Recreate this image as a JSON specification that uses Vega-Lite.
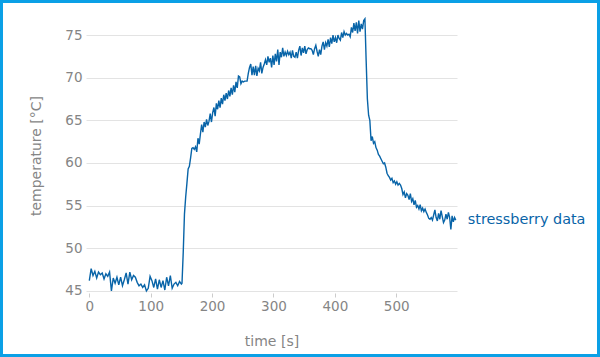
{
  "$schema": "https://vega.github.io/schema/vega-lite/v6.json",
  "autosize": {"type": "none"},
  "padding": 0,
  "width": 600,
  "height": 357,
  "background": "white",
  "config": {
    "font": "DejaVu Sans",
    "view": {"stroke": "#0ba0e6", "strokeWidth": 6}
  },
  "layer": [
    {
      "data": {"values": [
        {"t":0,"v":46.2},{"t":3,"v":47.6},{"t":6,"v":46.8},{"t":9,"v":47.3},{"t":12,"v":46.5},{"t":15,"v":47.2},{"t":18,"v":46.9},{"t":21,"v":47.1},{"t":24,"v":46.4},{"t":27,"v":47.0},{"t":30,"v":46.7},{"t":33,"v":47.2},{"t":36,"v":45.0},{"t":39,"v":46.5},{"t":42,"v":45.9},{"t":45,"v":46.6},{"t":48,"v":45.7},{"t":51,"v":46.6},{"t":54,"v":45.6},{"t":57,"v":46.3},{"t":60,"v":47.1},{"t":63,"v":45.8},{"t":66,"v":47.2},{"t":69,"v":46.3},{"t":72,"v":46.8},{"t":75,"v":46.6},{"t":78,"v":46.0},{"t":81,"v":45.6},{"t":84,"v":45.8},{"t":87,"v":45.4},{"t":90,"v":45.7},{"t":93,"v":45.0},{"t":96,"v":45.3},{"t":99,"v":46.7},{"t":102,"v":46.2},{"t":105,"v":45.4},{"t":108,"v":46.4},{"t":111,"v":45.2},{"t":114,"v":46.3},{"t":117,"v":45.4},{"t":120,"v":46.2},{"t":123,"v":45.1},{"t":126,"v":46.6},{"t":129,"v":45.6},{"t":132,"v":46.8},{"t":135,"v":45.3},{"t":138,"v":45.8},{"t":141,"v":46.0},{"t":144,"v":45.6},{"t":147,"v":46.1},{"t":150,"v":45.8},
        {"t":151,"v":45.9},{"t":153,"v":49.5},{"t":155,"v":54.0},{"t":157,"v":56.0},{"t":159,"v":57.6},{"t":161,"v":59.3},{"t":163,"v":59.6},{"t":165,"v":60.6},{"t":167,"v":61.7},{"t":169,"v":61.8},{"t":171,"v":61.6},{"t":173,"v":61.9},{"t":175,"v":61.3},{"t":177,"v":62.9},{"t":179,"v":62.2},{"t":181,"v":63.4},{"t":183,"v":64.5},{"t":185,"v":63.6},{"t":187,"v":64.8},{"t":189,"v":64.2},{"t":191,"v":65.1},{"t":193,"v":64.4},{"t":195,"v":64.9},{"t":197,"v":65.8},{"t":199,"v":64.8},{"t":201,"v":65.9},{"t":203,"v":66.5},{"t":205,"v":65.5},{"t":207,"v":67.0},{"t":209,"v":66.3},{"t":211,"v":67.3},{"t":213,"v":66.5},{"t":215,"v":67.6},{"t":217,"v":66.9},{"t":219,"v":68.0},{"t":221,"v":67.3},{"t":223,"v":68.2},{"t":225,"v":67.5},{"t":227,"v":68.5},{"t":229,"v":67.8},{"t":231,"v":68.8},{"t":233,"v":68.0},{"t":235,"v":69.1},{"t":237,"v":68.3},{"t":239,"v":69.5},{"t":241,"v":68.8},{"t":243,"v":70.2},{"t":245,"v":70.1},{"t":247,"v":69.3},{"t":249,"v":69.6},{"t":251,"v":69.5},{"t":253,"v":69.6},{"t":255,"v":69.6},{"t":257,"v":69.6},{"t":259,"v":70.5},{"t":261,"v":71.2},{"t":263,"v":71.6},{"t":265,"v":70.3},{"t":267,"v":71.3},{"t":269,"v":70.3},{"t":271,"v":71.4},{"t":273,"v":70.2},{"t":275,"v":71.1},{"t":277,"v":70.8},{"t":279,"v":71.8},{"t":281,"v":70.5},{"t":283,"v":71.2},{"t":285,"v":71.6},{"t":287,"v":72.1},{"t":289,"v":71.5},{"t":291,"v":72.5},{"t":293,"v":71.8},{"t":295,"v":72.3},{"t":297,"v":71.2},{"t":299,"v":72.6},{"t":301,"v":71.5},{"t":303,"v":72.8},{"t":305,"v":71.9},{"t":307,"v":73.3},{"t":309,"v":71.5},{"t":311,"v":73.0},{"t":313,"v":72.4},{"t":315,"v":73.5},{"t":317,"v":72.5},{"t":319,"v":73.0},{"t":321,"v":72.6},{"t":323,"v":73.1},{"t":325,"v":72.7},{"t":327,"v":73.0},{"t":329,"v":72.3},{"t":331,"v":73.2},{"t":333,"v":72.5},{"t":335,"v":72.4},{"t":337,"v":73.0},{"t":339,"v":72.3},{"t":341,"v":73.2},
        {"t":343,"v":73.7},{"t":345,"v":72.6},{"t":347,"v":73.5},{"t":349,"v":72.9},{"t":351,"v":73.7},{"t":353,"v":72.8},{"t":355,"v":73.3},{"t":357,"v":73.5},{"t":359,"v":73.4},{"t":361,"v":73.4},{"t":363,"v":73.2},{"t":365,"v":72.7},{"t":367,"v":73.4},{"t":369,"v":73.8},{"t":371,"v":73.1},{"t":373,"v":72.5},{"t":375,"v":73.3},{"t":377,"v":72.7},{"t":379,"v":73.7},{"t":381,"v":74.2},{"t":383,"v":73.3},{"t":385,"v":74.1},{"t":387,"v":73.7},{"t":389,"v":74.5},{"t":391,"v":73.6},{"t":393,"v":74.7},{"t":395,"v":74.0},{"t":397,"v":75.0},{"t":399,"v":74.2},{"t":401,"v":74.7},{"t":403,"v":74.1},{"t":405,"v":75.0},{"t":407,"v":74.6},{"t":409,"v":74.4},{"t":411,"v":75.3},{"t":413,"v":74.7},{"t":415,"v":75.4},{"t":417,"v":75.0},{"t":419,"v":75.2},{"t":421,"v":75.0},{"t":423,"v":75.1},{"t":425,"v":74.8},{"t":427,"v":75.9},{"t":429,"v":75.3},{"t":431,"v":76.4},{"t":433,"v":75.5},{"t":435,"v":76.5},{"t":437,"v":75.2},{"t":439,"v":76.7},{"t":441,"v":75.4},{"t":443,"v":76.3},{"t":445,"v":75.7},{"t":447,"v":76.7},{"t":449,"v":76.9},
        {"t":451,"v":72.0},{"t":453,"v":67.5},{"t":455,"v":65.6},{"t":457,"v":65.0},{"t":459,"v":62.6},{"t":461,"v":63.1},{"t":463,"v":62.3},{"t":465,"v":62.5},{"t":467,"v":61.8},{"t":469,"v":61.5},{"t":471,"v":61.0},{"t":473,"v":60.8},{"t":475,"v":60.5},{"t":477,"v":60.2},{"t":479,"v":59.9},{"t":481,"v":60.0},{"t":483,"v":59.5},{"t":485,"v":58.8},{"t":487,"v":58.5},{"t":489,"v":58.3},{"t":491,"v":58.0},{"t":493,"v":58.2},{"t":495,"v":57.7},{"t":497,"v":57.9},{"t":499,"v":57.5},{"t":501,"v":57.8},{"t":503,"v":57.4},{"t":505,"v":57.6},{"t":507,"v":57.4},{"t":509,"v":57.0},{"t":511,"v":56.3},{"t":513,"v":56.6},{"t":515,"v":55.9},{"t":517,"v":56.4},{"t":519,"v":56.2},{"t":521,"v":55.7},{"t":523,"v":56.4},{"t":525,"v":55.5},{"t":527,"v":55.8},{"t":529,"v":55.1},{"t":531,"v":55.6},{"t":533,"v":54.8},{"t":535,"v":55.0},{"t":537,"v":54.6},{"t":539,"v":55.1},{"t":541,"v":54.4},{"t":543,"v":54.7},{"t":545,"v":54.3},{"t":547,"v":54.6},{"t":549,"v":54.2},{"t":551,"v":53.9},{"t":553,"v":53.5},{"t":555,"v":53.4},{"t":557,"v":53.6},{"t":559,"v":53.3},{"t":561,"v":53.9},{"t":563,"v":54.5},{"t":565,"v":53.6},{"t":567,"v":53.2},{"t":569,"v":54.1},{"t":571,"v":53.4},{"t":573,"v":54.4},{"t":575,"v":53.7},{"t":577,"v":53.0},{"t":579,"v":53.3},{"t":581,"v":54.0},{"t":583,"v":53.4},{"t":585,"v":54.2},{"t":587,"v":53.6},{"t":589,"v":52.2},{"t":591,"v":53.8},{"t":593,"v":53.1},{"t":595,"v":53.6},{"t":597,"v":53.3}
      ]},
      "mark": {"type": "line", "color": "#0864a8", "strokeWidth": 1.4},
      "encoding": {
        "x": {
          "field": "t", "type": "quantitative",
          "scale": {"domain": [-5.4, 599], "range": [86, 457], "nice": false, "zero": false},
          "axis": {
            "title": "time [s]", "values": [0, 100, 200, 300, 400, 500],
            "offset": -64, "domain": false, "grid": false,
            "ticks": true, "tickSize": 4, "tickColor": "#cccccc",
            "labelPadding": 2, "labelFontSize": 13.5, "labelColor": "#858585",
            "titleFontSize": 14, "titleFontWeight": "normal", "titleColor": "#858585", "titlePadding": 22
          }
        },
        "y": {
          "field": "v", "type": "quantitative",
          "scale": {"domain": [44.75, 77], "range": [293, 18], "nice": false, "zero": false},
          "axis": {
            "title": "temperature [°C]", "values": [45, 50, 55, 60, 65, 70, 75],
            "offset": -86, "domain": false, "ticks": false,
            "grid": true, "gridColor": "#e3e3e3", "gridWidth": 1,
            "labelPadding": 4, "labelFontSize": 13.5, "labelColor": "#858585",
            "titleFontSize": 14, "titleFontWeight": "normal", "titleColor": "#858585", "titlePadding": 21
          }
        }
      }
    },
    {
      "data": {"values": [{"t": 597, "v": 53.3, "label": "stressberry data"}]},
      "mark": {"type": "text", "align": "left", "baseline": "middle", "dx": 12, "fontSize": 14.4, "color": "#0864a8"},
      "encoding": {
        "x": {"field": "t", "type": "quantitative"},
        "y": {"field": "v", "type": "quantitative"},
        "text": {"field": "label"}
      }
    }
  ]
}
